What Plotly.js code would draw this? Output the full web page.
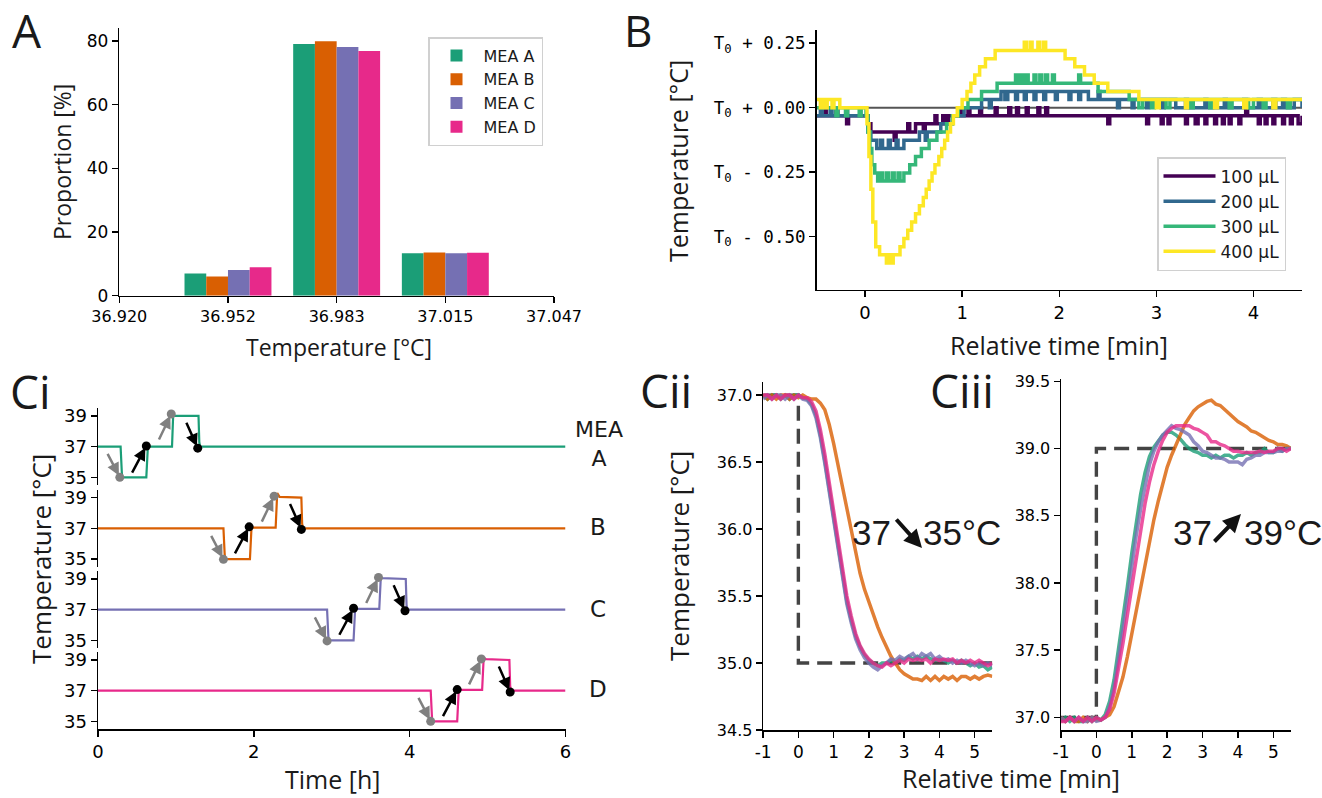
<!DOCTYPE html>
<html>
<head>
<meta charset="utf-8">
<script src="https://cdn.plot.ly/plotly-3.0.1.min.js"></script>
<style>
html,body{margin:0;padding:0;background:#fff;}
#chart{width:1322px;height:798px;}
</style>
</head>
<body>
<div id="chart"></div>
<script>
// ---------------- Panel A : histogram of temperatures ----------------
const tempBins = [36.9517, 36.9834, 37.0151];
const tempTickVals = [36.9200, 36.9517, 36.9834, 37.0151, 37.0468];
const tempTickText = ['36.920', '36.952', '36.983', '37.015', '37.047'];
const meaNames = ['MEA A', 'MEA B', 'MEA C', 'MEA D'];
const meaColors = ['#1b9e77', '#d95f02', '#7570b3', '#e7298a'];
const propMEA_A = [7.0, 79.1, 13.3];
const propMEA_B = [6.0, 79.9, 13.6];
const propMEA_C = [8.1, 78.1, 13.3];
const propMEA_D = [8.9, 76.9, 13.5];

// ---------------- Panel B : response to added medium ----------------
const volLabels = ['100 µL', '200 µL', '300 µL', '400 µL'];
const volColors = ['#440154', '#31688e', '#35b779', '#fde725'];
const bTickVals = [0.25, 0, -0.25, -0.5];
const bTickText = ['T<sub>0</sub> + 0.25', 'T<sub>0</sub> + 0.00', 'T<sub>0</sub> - 0.25', 'T<sub>0</sub> - 0.50'];
const v100_t = [-0.5,-0.42,-0.40,-0.30,-0.28,-0.19,-0.17,0.03,0.06,0.30,0.32,0.44,0.46,0.52,0.60,0.62,0.72,0.74,0.80,0.83,0.86,0.98,1.0,1.06,1.08,1.18,1.20,1.34,1.36,1.48,1.50,1.56,1.58,1.66,1.68,1.78,1.80,1.86,1.88,2.5,2.52,2.9,2.92,3.05,3.07,3.12,3.14,3.3,3.32,3.4,3.43,3.5,3.52,3.6,3.62,3.68,3.7,3.75,3.77,3.85,3.87,3.92,3.94,4.05,4.07,4.12,4.14,4.2,4.22,4.3,4.32,4.38,4.4,4.46,4.5];
const v100_T = [-0.032,0,-0.032,0,-0.032,-0.063,-0.032,-0.063,-0.095,-0.127,-0.095,-0.063,-0.095,-0.063,-0.095,-0.063,-0.032,-0.063,-0.032,-0.063,-0.032,0,-0.032,0,-0.032,0,-0.032,0,-0.032,0,-0.032,0,-0.032,0,-0.032,0,-0.032,0,-0.032,-0.063,-0.032,-0.063,-0.032,-0.063,-0.032,-0.063,-0.032,-0.063,-0.032,-0.063,-0.032,-0.063,-0.032,-0.063,-0.032,-0.063,-0.032,-0.063,-0.032,-0.063,-0.032,0,-0.032,-0.063,-0.032,-0.063,-0.032,-0.063,-0.032,-0.063,-0.032,-0.063,-0.032,-0.063,-0.032];
const v200_t = [-0.5,-0.46,-0.44,-0.36,-0.34,-0.2,-0.18,0.0,0.03,0.06,0.12,0.16,0.18,0.24,0.26,0.32,0.34,0.40,0.56,0.62,0.64,0.78,0.9,1.02,1.2,1.28,1.30,1.4,1.44,1.47,1.55,1.57,1.64,1.66,1.74,1.76,1.84,1.86,1.96,1.98,2.1,2.12,2.2,2.22,2.3,2.4,2.42,2.6,2.62,2.75,2.77,2.9,2.92,3.05,3.08,3.2,3.3,3.32,3.5,3.52,3.7,3.72,3.9,3.93,4.05,4.08,4.2,4.23,4.3,4.33,4.42,4.5];
const v200_T = [-0.032,0,-0.032,0,-0.032,0,-0.032,-0.032,-0.095,-0.127,-0.159,-0.127,-0.159,-0.127,-0.159,-0.127,-0.159,-0.127,-0.095,-0.127,-0.095,-0.063,-0.032,0,0.032,0,0.032,0.063,0.032,0.063,0.032,0.063,0.032,0.063,0.032,0.063,0.032,0.063,0.032,0.063,0.032,0.063,0.032,0.063,0.032,0.063,0.032,0,0.032,0,0.032,0,0.032,0,0.032,0,0.032,0,0.032,0,0.032,0,0.032,0,0.032,0,0.032,0,0.032,0,0.032,0];
const v300_t = [-0.5,-0.3,-0.28,-0.2,-0.18,-0.06,-0.04,0.01,0.03,0.05,0.07,0.1,0.13,0.16,0.18,0.22,0.24,0.28,0.30,0.34,0.36,0.40,0.46,0.52,0.58,0.66,0.74,0.84,0.9,0.96,1.06,1.2,1.36,1.55,1.57,1.6,1.63,1.66,1.68,1.74,1.76,1.8,1.82,1.86,1.88,1.93,1.95,2.2,2.22,2.4,2.72,2.82,2.86,2.95,2.98,3.1,3.14,3.35,3.38,3.55,3.58,3.75,3.78,3.95,4.0,4.1,4.13,4.35,4.38,4.5];
const v300_T = [0,-0.032,0,-0.032,0,-0.032,0,-0.032,-0.095,-0.159,-0.222,-0.254,-0.285,-0.254,-0.285,-0.254,-0.285,-0.254,-0.285,-0.254,-0.285,-0.254,-0.222,-0.19,-0.159,-0.127,-0.095,-0.063,-0.032,0,0.032,0.063,0.095,0.127,0.095,0.127,0.095,0.127,0.095,0.127,0.095,0.127,0.095,0.127,0.095,0.127,0.095,0.127,0.095,0.063,0.032,0,0.032,0,0.032,0,0.032,0,0.032,0,0.032,0,0.032,0,0.032,0,0.032,0,0.032,0.032];
const v400_t = [-0.5,-0.46,-0.44,-0.41,-0.39,-0.34,-0.32,-0.26,0.02,0.04,0.06,0.08,0.11,0.15,0.22,0.25,0.27,0.29,0.36,0.40,0.44,0.48,0.52,0.56,0.6,0.63,0.66,0.69,0.72,0.76,0.79,0.82,0.85,0.88,0.91,0.95,1.0,1.05,1.09,1.13,1.18,1.24,1.34,1.64,1.66,1.70,1.72,1.78,1.80,1.84,1.86,2.06,2.16,2.26,2.36,2.5,2.82,3.0,3.03,3.3,3.32,3.6,3.63,3.9,3.93,4.2,4.23,4.5];
const v400_T = [0.032,0,0.032,0,0.032,0,0.032,0,-0.063,-0.19,-0.317,-0.444,-0.54,-0.571,-0.603,-0.571,-0.603,-0.571,-0.54,-0.508,-0.476,-0.444,-0.412,-0.381,-0.349,-0.317,-0.285,-0.254,-0.222,-0.19,-0.159,-0.127,-0.095,-0.063,-0.032,0,0.032,0.063,0.095,0.127,0.159,0.19,0.222,0.254,0.222,0.254,0.222,0.254,0.222,0.254,0.222,0.19,0.159,0.127,0.095,0.063,0.032,0,0.032,0,0.032,0,0.032,0,0.032,0,0.032,0.032];

// ---------------- Panel Ci : 6 h protocol ----------------
const ciTickVals = [35, 37, 39];
const ciXTicks = [0, 2, 4, 6];
const ciA_t = [0,0.29,0.305,0.31,0.62,0.63,0.64,0.95,0.955,0.965,0.98,1.29,1.30,1.31,6];
const ciA_T = [37,37,35.4,35,35,36.6,37,37,38.7,39.1,39,39,37.3,37,37];
const ciB_t = [0,1.61,1.625,1.63,1.95,1.96,1.97,2.28,2.29,2.30,2.33,2.61,2.62,2.63,6];
const ciB_T = [37,37,35.4,35,35,36.6,37.05,37.05,38.9,39.3,39.05,39.0,37.3,37,37];
const ciC_t = [0,2.94,2.955,2.96,3.28,3.29,3.30,3.61,3.62,3.63,3.65,3.95,3.96,3.97,6];
const ciC_T = [37,37,35.4,35,35,36.6,37.05,37.05,38.8,39.15,39.05,39.0,37.3,37,37];
const ciD_t = [0,4.27,4.285,4.29,4.61,4.62,4.63,4.93,4.94,4.95,4.98,5.28,5.29,5.30,6];
const ciD_T = [37,37,35.4,35,35,36.6,37.05,37.05,38.8,39.15,39.05,39.0,37.3,37,37];
// step markers (dots) : 37->35, 35->37, 37->39, 39->37
const dotA_t = [0.28, 0.62, 0.94, 1.28], dotA_T = [35.0, 37.04, 39.13, 36.9];
const dotB_t = [1.61, 1.94, 2.26, 2.61], dotB_T = [34.98, 37.1, 39.1, 36.93];
const dotC_t = [2.94, 3.28, 3.60, 3.94], dotC_T = [34.96, 37.09, 39.1, 36.93];
const dotD_t = [4.27, 4.61, 4.92, 5.29], dotD_T = [35.0, 37.07, 39.07, 36.91];
const meaLetters = ['A', 'B', 'C', 'D'];

// ---------------- Panels Cii / Ciii : step responses ----------------
const relTime = [-1,-0.875,-0.75,-0.625,-0.5,-0.375,-0.25,-0.125,0,0.125,0.25,0.375,0.5,0.625,0.75,0.875,1,1.125,1.25,1.375,1.5,1.625,1.75,1.875,2,2.125,2.25,2.375,2.5,2.625,2.75,2.875,3,3.125,3.25,3.375,3.5,3.625,3.75,3.875,4,4.125,4.25,4.375,4.5,4.625,4.75,4.875,5,5.125,5.25,5.375,5.5];
const relTickVals = [-1, 0, 1, 2, 3, 4, 5];
const relTickText = ['-1', '0', '1', '2', '3', '4', '5'];
const setDown_t = [-1, 0, 0, 5.5], setDown_T = [37, 37, 35, 35];
const setUp_t = [-1, 0, 0, 5.5], setUp_T = [37, 37, 39, 39];
const down_A = [37.0,36.97,37.0,37.0,36.97,37.0,36.97,37.0,37.0,36.98,36.97,36.93,36.85,36.7,36.51,36.3,36.07,35.85,35.64,35.46,35.32,35.2,35.12,35.06,35.02,35.0,34.98,35.0,35.0,35.02,35.0,35.03,35.02,35.05,35.03,35.05,35.03,35.05,35.03,35.02,35.03,35.02,35.0,35.02,35.0,35.02,35.0,34.98,35.0,34.97,34.98,34.95,34.97];
const down_B = [37.0,36.97,37.0,36.97,37.0,37.0,36.97,37.0,36.98,37.0,36.98,36.97,36.97,36.94,36.89,36.78,36.64,36.48,36.32,36.15,35.97,35.82,35.67,35.55,35.45,35.36,35.27,35.19,35.12,35.05,35.0,34.95,34.92,34.9,34.88,34.88,34.87,34.9,34.87,34.9,34.87,34.9,34.88,34.9,34.87,34.9,34.9,34.88,34.9,34.88,34.9,34.91,34.9];
const down_C = [36.97,37.0,36.97,37.0,37.0,36.97,37.0,36.97,37.0,36.97,36.96,36.92,36.83,36.68,36.49,36.28,36.05,35.83,35.62,35.44,35.3,35.18,35.1,35.04,35.0,34.97,34.95,34.98,35.0,35.03,35.02,35.05,35.03,35.05,35.07,35.03,35.07,35.05,35.07,35.03,35.05,35.02,35.03,35.0,35.02,35.0,35.02,35.0,34.98,35.0,34.98,35.0,34.98];
const down_D = [37.0,37.0,36.97,37.0,36.97,37.0,37.0,36.97,37.0,36.98,36.98,36.95,36.88,36.74,36.56,36.35,36.13,35.9,35.69,35.5,35.35,35.22,35.13,35.07,35.03,35.0,34.98,34.97,35.0,34.98,35.0,35.02,35.0,35.03,35.02,35.03,35.02,35.03,35.0,35.03,35.02,35.03,35.02,35.03,35.0,35.02,35.0,35.02,35.0,35.02,35.0,34.98,35.0];
const up_A = [36.97,37.0,36.97,37.0,36.97,36.97,37.0,36.97,37.0,36.98,37.02,37.12,37.28,37.5,37.72,37.97,38.22,38.45,38.66,38.82,38.94,39.01,39.06,39.1,39.12,39.12,39.1,39.07,39.03,39.0,38.98,38.97,38.95,38.95,38.93,38.95,38.93,38.95,38.95,38.93,38.95,38.95,38.97,38.95,38.97,38.97,39.0,38.97,38.97,39.0,38.98,39.0,39.0];
const up_B = [37.0,36.97,37.0,36.97,36.97,37.0,36.97,37.0,36.98,36.98,37.0,37.02,37.08,37.18,37.3,37.45,37.62,37.8,37.97,38.14,38.31,38.47,38.61,38.74,38.86,38.95,39.03,39.11,39.18,39.23,39.28,39.31,39.33,39.35,39.36,39.33,39.32,39.29,39.26,39.23,39.2,39.18,39.16,39.13,39.12,39.1,39.08,39.06,39.05,39.03,39.03,39.02,39.0];
const up_C = [37.0,36.97,37.0,36.97,37.0,36.97,36.97,37.0,36.97,36.98,37.0,37.08,37.22,37.42,37.65,37.88,38.12,38.35,38.55,38.73,38.88,38.98,39.05,39.1,39.14,39.17,39.15,39.14,39.12,39.1,39.05,39.02,38.98,38.97,38.95,38.93,38.93,38.92,38.9,38.9,38.9,38.88,38.92,38.93,38.95,38.95,38.97,38.97,38.97,38.98,38.98,39.0,39.0];
const up_D = [36.97,36.97,37.0,36.97,37.0,36.97,37.0,36.97,37.0,36.98,37.0,37.06,37.18,37.35,37.55,37.76,37.97,38.19,38.4,38.59,38.75,38.88,38.98,39.06,39.12,39.15,39.17,39.17,39.17,39.17,39.15,39.14,39.12,39.1,39.05,39.05,39.03,39.02,39.0,38.98,38.98,38.97,38.97,38.97,38.97,38.98,38.97,38.98,38.98,39.0,39.0,38.98,39.0];

// ================= build =================
const W = 1322, H = 798;
const px = v => v / W;
const py = v => 1 - v / H;
const TICKF = 'DejaVu Sans';
const TITLEF = 'Open Sans';

function axis(extra) {
  return Object.assign({
    showline: true, linecolor: '#000', linewidth: 1.5,
    ticks: 'outside', ticklen: 6, tickwidth: 1.5, tickcolor: '#000',
    showgrid: false, zeroline: false, mirror: false, fixedrange: true,
    automargin: false
  }, extra);
}

const traces = [];
// Panel A bars
const propAll = [propMEA_A, propMEA_B, propMEA_C, propMEA_D];
propAll.forEach((p, i) => {
  traces.push({
    type: 'bar', x: tempBins, y: p, name: meaNames[i],
    marker: {color: meaColors[i], line: {width: 0}},
    xaxis: 'x', yaxis: 'y', legend: 'legend', legendgroup: 'a' + i,
    hoverinfo: 'skip'
  });
});

// Panel B lines
const bSeries = [[v100_t, v100_T], [v200_t, v200_T], [v300_t, v300_T], [v400_t, v400_T]];
bSeries.forEach((s, i) => {
  traces.push({
    type: 'scatter', mode: 'lines', x: s[0], y: s[1], name: volLabels[i],
    line: {color: volColors[i], width: 3.5, shape: 'hv'},
    xaxis: 'x2', yaxis: 'y2', legend: 'legend2', legendgroup: 'b' + i,
    hoverinfo: 'skip'
  });
});

// Panel Ci
const ciSeries = [[ciA_t, ciA_T], [ciB_t, ciB_T], [ciC_t, ciC_T], [ciD_t, ciD_T]];
const ciDots = [[dotA_t, dotA_T], [dotB_t, dotB_T], [dotC_t, dotC_T], [dotD_t, dotD_T]];
const ciY = ['y3', 'y4', 'y5', 'y6'];
const dotColors = ['#808080', '#000000', '#808080', '#000000'];
ciSeries.forEach((s, i) => {
  traces.push({
    type: 'scatter', mode: 'lines', x: s[0], y: s[1], showlegend: false,
    line: {color: meaColors[i], width: 2.2}, xaxis: 'x3', yaxis: ciY[i], hoverinfo: 'skip'
  });
  traces.push({
    type: 'scatter', mode: 'markers', x: ciDots[i][0], y: ciDots[i][1], showlegend: false,
    marker: {color: dotColors, size: 9}, xaxis: 'x3', yaxis: ciY[i], hoverinfo: 'skip'
  });
});

// Panel Cii / Ciii
traces.push({type: 'scatter', mode: 'lines', x: setDown_t, y: setDown_T, showlegend: false,
  line: {color: '#444444', width: 3.4, dash: '15px,8px'}, xaxis: 'x4', yaxis: 'y7', hoverinfo: 'skip'});
traces.push({type: 'scatter', mode: 'lines', x: setUp_t, y: setUp_T, showlegend: false,
  line: {color: '#444444', width: 3.4, dash: '15px,8px'}, xaxis: 'x5', yaxis: 'y8', hoverinfo: 'skip'});
const downAll = [down_A, down_B, down_C, down_D];
const upAll = [up_A, up_B, up_C, up_D];
downAll.forEach((d, i) => {
  traces.push({type: 'scatter', mode: 'lines', x: relTime, y: d, showlegend: false, opacity: 0.8,
    line: {color: meaColors[i], width: 3.5}, xaxis: 'x4', yaxis: 'y7', hoverinfo: 'skip'});
});
upAll.forEach((d, i) => {
  traces.push({type: 'scatter', mode: 'lines', x: relTime, y: d, showlegend: false, opacity: 0.8,
    line: {color: meaColors[i], width: 3.5}, xaxis: 'x5', yaxis: 'y8', hoverinfo: 'skip'});
});

// ---------- annotations ----------
const ann = [];
function txt(text, x, y, size, family, extra) {
  ann.push(Object.assign({
    text: text, x: px(x), y: py(y), xref: 'paper', yref: 'paper',
    showarrow: false, xanchor: 'center', yanchor: 'middle',
    font: {family: family, size: size, color: '#1a1a1a'}
  }, extra || {}));
}
// panel letters
txt('A', 27, 30, 46, TITLEF);
txt('B', 638, 30, 44, TITLEF);
txt('Ci', 30, 391, 46, TITLEF);
txt('Cii', 666, 390, 46, TITLEF);
txt('Ciii', 962, 390, 46, TITLEF);
// axis titles
txt('Proportion [%]', 62, 162, 23, TITLEF, {textangle: -90});
txt('Temperature [°C]', 339, 347, 23, TITLEF);
txt('Temperature [°C]', 678, 161, 25, TITLEF, {textangle: -90});
txt('Relative time [min]', 1059, 345, 25, TITLEF);
txt('Temperature [°C]', 41, 559, 26, TITLEF, {textangle: -90});
txt('Time [h]', 332, 798, 25, TITLEF, {yanchor: 'bottom'});
txt('Temperature [°C]', 679, 556, 26, TITLEF, {textangle: -90});
txt('Relative time [min]', 1011, 778, 25, TITLEF);
// MEA labels
txt('MEA<br>A', 599, 444, 22, TICKF);
const meaLabelY = [456, 527, 609, 689];
meaLetters.forEach((l, i) => { if (i > 0) txt(l, 598, meaLabelY[i], 23, TICKF); });
// step annotations
const BIGF = 'Liberation Sans, Arial';
txt('37', 871, 532, 35, BIGF);
txt('35°C', 962, 532, 35, BIGF);
ann.push({x: px(922), y: py(548), xref: 'paper', yref: 'paper', ax: -27, ay: -30, text: '',
  showarrow: true, arrowhead: 2, arrowsize: 0.9, arrowwidth: 4, arrowcolor: '#111'});
txt('37', 1192, 532, 35, BIGF);
txt('39°C', 1283, 532, 35, BIGF);
ann.push({x: px(1241), y: py(514), xref: 'paper', yref: 'paper', ax: -28, ay: 29, text: '',
  showarrow: true, arrowhead: 2, arrowsize: 0.9, arrowwidth: 4, arrowcolor: '#111'});
// Ci arrows pointing at each step marker
const arrowDirs = [[-13, -25], [-15, 28], [-13, 27], [-12, -27]];
ciDots.forEach((d, i) => {
  d[0].forEach((t, k) => {
    ann.push({x: t, y: d[1][k], xref: 'x3', yref: ciY[i], ax: arrowDirs[k][0], ay: arrowDirs[k][1],
      text: '', showarrow: true, arrowhead: 2, arrowsize: 1, arrowwidth: 2.5, standoff: 2,
      arrowcolor: dotColors[k]});
  });
});

// ---------- shapes ----------
const shapes = [
  {type: 'line', xref: 'x2 domain', yref: 'y2', x0: 0, x1: 1, y0: 0, y1: 0,
   line: {color: '#555555', width: 2}, layer: 'below'}
];

// ---------- layout ----------
const ciYAxis = (dom) => axis({domain: dom, range: [34.5, 39.5], tickvals: ciTickVals, anchor: 'x3',
  tickfont: {family: TICKF, size: 18, color: '#000'}});

const layout = {
  width: W, height: H,
  margin: {l: 0, r: 0, t: 0, b: 0},
  paper_bgcolor: '#fff', plot_bgcolor: 'rgba(0,0,0,0)',
  showlegend: true,
  barmode: 'group', bargap: 0.2, bargroupgap: 0,
  font: {family: TICKF, color: '#000'},
  xaxis: axis({domain: [px(119.3), px(554)], range: [36.9200, 37.0468], tickvals: tempTickVals, ticktext: tempTickText,
    anchor: 'y', tickfont: {family: TICKF, size: 16, color: '#000'}}),
  yaxis: axis({domain: [py(295.7), py(28.3)], range: [0, 84], tickvals: [0, 20, 40, 60, 80],
    anchor: 'x', tickfont: {family: TICKF, size: 17, color: '#000'}}),
  xaxis2: axis({domain: [px(816.5), px(1302)], range: [-0.5, 4.5], tickvals: [0, 1, 2, 3, 4],
    anchor: 'y2', tickfont: {family: TICKF, size: 18, color: '#000'}}),
  yaxis2: axis({domain: [py(289.6), py(30.3)], range: [-0.706, 0.300], tickvals: bTickVals, ticktext: bTickText,
    anchor: 'x2', tickfont: {family: 'DejaVu Sans Mono', size: 17.5, color: '#000'}}),
  xaxis3: axis({domain: [px(98), px(565.5)], range: [0, 6], tickvals: ciXTicks, anchor: 'y6',
    tickfont: {family: TICKF, size: 18, color: '#000'}}),
  yaxis3: ciYAxis([py(485), py(408.3)]),
  yaxis4: ciYAxis([py(566.7), py(490)]),
  yaxis5: ciYAxis([py(648), py(571.3)]),
  yaxis6: ciYAxis([py(729), py(652.3)]),
  xaxis4: axis({domain: [px(763.1), px(992.3)], range: [-1, 5.5], tickvals: relTickVals, ticktext: relTickText,
    anchor: 'y7', tickfont: {family: TICKF, size: 17, color: '#000'}}),
  yaxis7: axis({domain: [py(730), py(381.7)], range: [34.5, 37.1], tickvals: [34.5, 35, 35.5, 36, 36.5, 37],
    tickformat: '.1f', anchor: 'x4', tickfont: {family: TICKF, size: 16, color: '#000'}}),
  xaxis5: axis({domain: [px(1061), px(1291)], range: [-1, 5.5], tickvals: relTickVals, ticktext: relTickText,
    anchor: 'y8', tickfont: {family: TICKF, size: 17, color: '#000'}}),
  yaxis8: axis({domain: [py(730), py(378.6)], range: [36.906, 39.52], tickvals: [37, 37.5, 38, 38.5, 39, 39.5],
    tickformat: '.1f', anchor: 'x5', tickfont: {family: TICKF, size: 16, color: '#000'}}),
  legend: {x: px(428), y: py(37), xanchor: 'left', yanchor: 'top', bgcolor: 'rgba(255,255,255,0.85)',
    bordercolor: '#d0d0d0', borderwidth: 1.5, font: {family: TICKF, size: 16, color: '#1a1a1a'},
    tracegroupgap: 4.5, traceorder: 'normal', itemwidth: 44},
  legend2: {x: px(1157), y: py(157), xanchor: 'left', yanchor: 'top', bgcolor: 'rgba(255,255,255,0.85)',
    bordercolor: '#d0d0d0', borderwidth: 1.5, font: {family: TICKF, size: 17, color: '#1a1a1a'},
    tracegroupgap: 8, traceorder: 'normal', itemwidth: 52},
  annotations: ann,
  shapes: shapes
};

Plotly.newPlot('chart', traces, layout, {staticPlot: true, displayModeBar: false});
</script>
</body>
</html>
